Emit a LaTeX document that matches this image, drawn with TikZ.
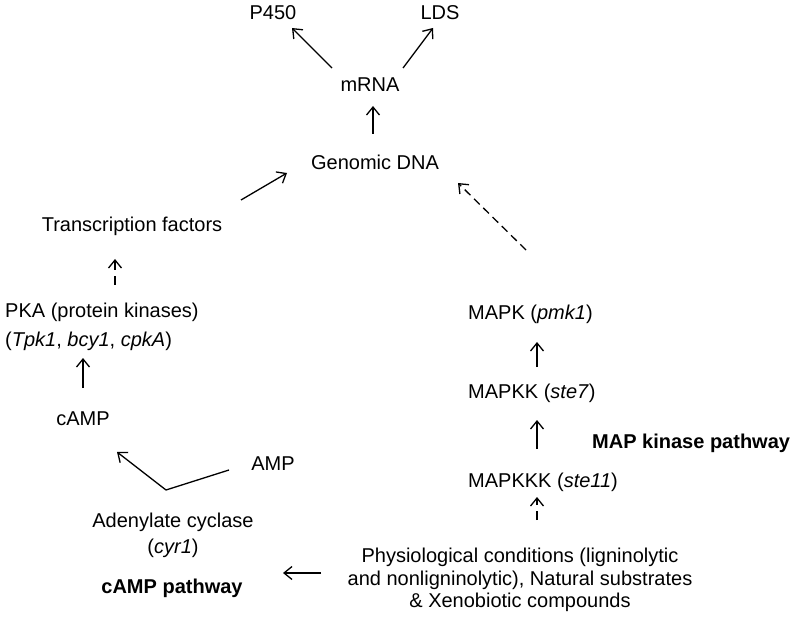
\documentclass[tikz,border=0pt]{standalone}
\usepackage{fontspec}
\setmainfont{Liberation Sans}
\usetikzlibrary{arrows.meta,calc}
\tikzset{
  lbl/.style={inner sep=0pt, font=\fontsize{20}{24}\selectfont},
  lblc/.style={lbl, anchor=base},
  lblw/.style={lbl, anchor=base west},
  ttl/.style={lbl, font=\fontsize{20}{24}\selectfont\bfseries},
  arr/.style={line width=1.3pt, -{Straight Barb[length=8pt,width=13pt,line width=1.3pt]}},
  darr/.style={arr, dash pattern=on 8pt off 5pt},
  sdarr/.style={arr, dash pattern=on 9pt off 6pt}
}
\begin{document}
\begin{tikzpicture}[x=1pt,y=-1pt]
\useasboundingbox (0,0) rectangle (800,617);
% nodes
\node[lblc] (p450) at (273,20) {P450};
\node[lblc] (lds) at (440,20) {LDS};
\node[lblc] (mrna) at (370,92) {mRNA};
\node[lblc] (dna) at (375,170) {Genomic DNA};
\node[lblc] (tf) at (132,232) {Transcription factors};
\node[lblw] (pka1) at (5,318) {PKA (protein kinases)};
\node[lblw] (pka2) at (5,347) {(\textit{Tpk1}, \textit{bcy1}, \textit{cpkA})};
\node[lblc] (camp) at (83,425) {cAMP};
\node[lblc] (amp) at (273,470) {AMP};
\node[lblc] (ac1) at (173,527) {Adenylate cyclase};
\node[lblc] (ac2) at (173,553) {(\textit{cyr1})};
\node[ttl, anchor=base] (camppath) at (172,593) {cAMP pathway};
\node[lblw] (mapk) at (468,320) {MAPK (\textit{pmk1})};
\node[lblw] (mapkk) at (468,398) {MAPKK (\textit{ste7})};
\node[lblw] (mapkkk) at (468,487) {MAPKKK (\textit{ste11})};
\node[ttl, anchor=base west] (mappath) at (592,448) {MAP kinase pathway};
\node[lblc] (cond1) at (520,562) {Physiological conditions (ligninolytic};
\node[lblc] (cond2) at (520,585) {and nonligninolytic), Natural substrates};
\node[lblc] (cond3) at (520,607) {\& Xenobiotic compounds};
% connectors
\draw[arr] ($(mrna.base)+(-38,-24)$) -- ($(p450.base)+(19,8)$);
\draw[arr] ($(mrna.base)+(33,-24)$) -- ($(lds.base)+(-7,8)$);
\draw[arr] ($(dna.base)+(-2,-36)$) -- ($(mrna.base)+(3,14)$);
\draw[arr] ($(tf.base)+(109,-32)$) -- ($(dna.base)+(-88,3)$);
\draw[darr] ($(mapk.base west)+(58,-70)$) -- ($(dna.base)+(83,13)$);
\draw[sdarr] ($(pka1.base west)+(110,-33)$) -- ($(tf.base)+(-17,27)$);
\draw[arr] ($(camp.base)+(0,-37)$) -- ($(pka2.base west)+(78,11)$);
\draw[arr] ($(amp.base)+(-44,0)$) -- ($(ac1.base)+(-7,-37)$) -- ($(camp.base)+(34,27)$);
\draw[arr] ($(cond1.base)+(-199,11)$) -- ($(camppath.base)+(111,-20)$);
\draw[arr] ($(mapkk.base west)+(69,-31)$) -- ($(mapk.base west)+(69,22)$);
\draw[arr] ($(mapkkk.base west)+(69,-38)$) -- ($(mapkk.base west)+(69,22)$);
\draw[sdarr] ($(cond1.base)+(17,-42)$) -- ($(mapkkk.base west)+(69,10)$);
\end{tikzpicture}
\end{document}
